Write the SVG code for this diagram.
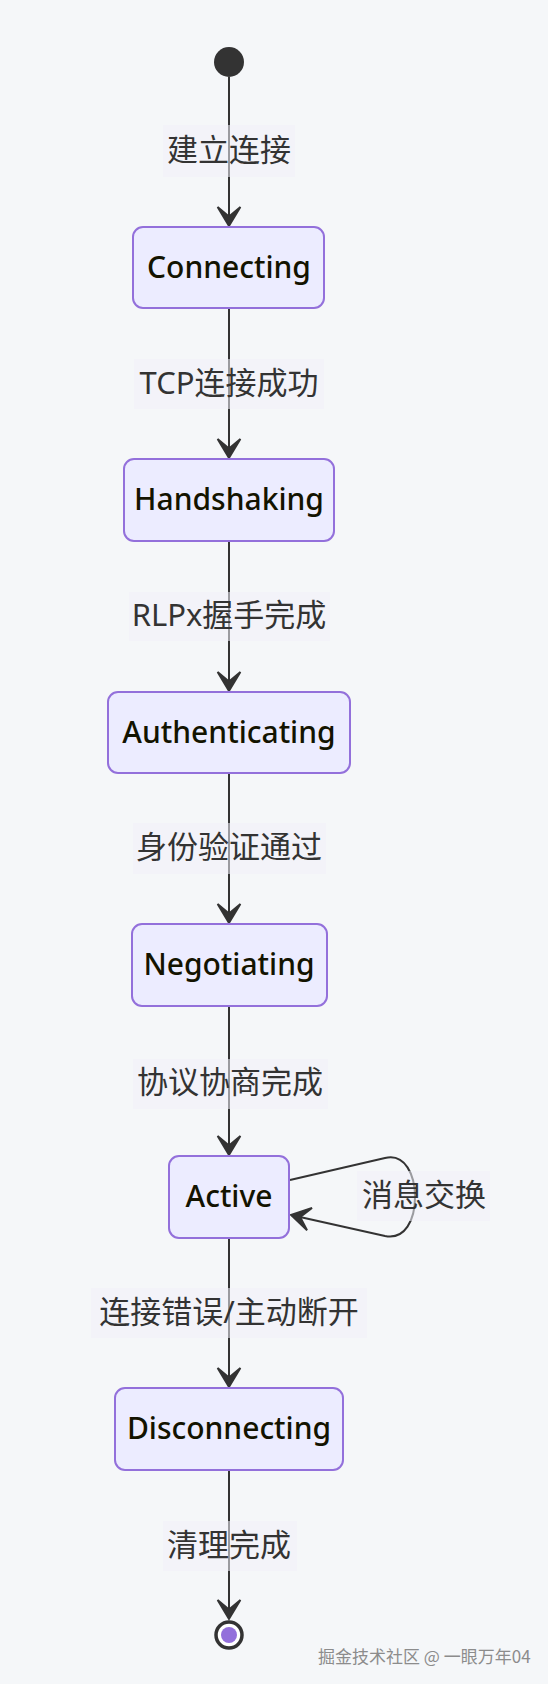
<svg xmlns="http://www.w3.org/2000/svg" width="548" height="1684" viewBox="0 0 548 1684">
<style>
.bg{fill:#f5f7f9}
.node rect{fill:#ececff;stroke:#9370db;stroke-width:2}
.node text{font-family:"Noto Sans","Noto Sans CJK SC",sans-serif;font-size:30px;font-weight:500;fill:#131300;text-anchor:middle;dominant-baseline:central}
.edge{fill:none;stroke:#333;stroke-width:2}
.lbg{fill:#f0f0fa;fill-opacity:0.55}
.lbl{font-family:"Noto Sans","Noto Sans CJK SC",sans-serif;font-size:31px;fill:#333;text-anchor:middle;dominant-baseline:central}
.wm{font-family:"Noto Sans CJK SC","Noto Sans",sans-serif;font-size:17px;fill:#8c8c8c}
</style>
<defs>
<marker id="barb" viewBox="0 0 20 14" refX="19" refY="7" markerUnits="userSpaceOnUse" markerWidth="38" markerHeight="26.6" orient="auto">
<path d="M19,7 L9,13 L14,7 L9,1 Z" fill="#333" stroke="#333" stroke-width="1"/>
</marker>
</defs>
<rect class="bg" x="0" y="0" width="548" height="1684"/>
<g id="connectors">
<path class="edge" d="M229,77 L229,226" marker-end="url(#barb)"/>
<path class="edge" d="M229,308 L229,458" marker-end="url(#barb)"/>
<path class="edge" d="M229,541 L229,691" marker-end="url(#barb)"/>
<path class="edge" d="M229,773 L229,923" marker-end="url(#barb)"/>
<path class="edge" d="M229,1006 L229,1155" marker-end="url(#barb)"/>
<path class="edge" d="M229,1238 L229,1387" marker-end="url(#barb)"/>
<path class="edge" d="M229,1470 L229,1619" marker-end="url(#barb)"/>
<path class="edge" d="M290,1180 L385,1158 C405,1153 415,1175 415,1197 C415,1220 405,1240 385,1236 L291,1215" marker-end="url(#barb)"/>
<g id="edge-labels">
<rect class="lbg" x="163" y="125" width="132" height="52"/>
<text class="lbl" x="229" y="149">建立连接</text>
<rect class="lbg" x="134" y="359" width="190" height="50"/>
<text class="lbl" x="229" y="382">TCP连接成功</text>
<rect class="lbg" x="129" y="592" width="201" height="49"/>
<text class="lbl" x="229" y="614">RLPx握手完成</text>
<rect class="lbg" x="133" y="823" width="193" height="51"/>
<text class="lbl" x="229" y="846">身份验证通过</text>
<rect class="lbg" x="133" y="1059" width="195" height="50"/>
<text class="lbl" x="230" y="1081">协议协商完成</text>
<rect class="lbg" x="91" y="1288" width="276" height="50"/>
<text class="lbl" x="229" y="1311">连接错误/主动断开</text>
<rect class="lbg" x="163" y="1521" width="134" height="50"/>
<text class="lbl" x="229" y="1544">清理完成</text>
<rect class="lbg" x="357" y="1171" width="133" height="50"/>
<text class="lbl" x="424" y="1194">消息交换</text>
</g>
</g>
<g id="start"><circle cx="229" cy="62" r="15" fill="#333"/></g>
<g id="Connecting" class="node"><rect x="133" y="227" width="191" height="81" rx="10"/><text x="229" y="266">Connecting</text></g>
<g id="Handshaking" class="node"><rect x="124" y="459" width="210" height="82" rx="10"/><text x="229" y="498">Handshaking</text></g>
<g id="Authenticating" class="node"><rect x="108" y="692" width="242" height="81" rx="10"/><text x="229" y="731">Authenticating</text></g>
<g id="Negotiating" class="node"><rect x="132" y="924" width="195" height="82" rx="10"/><text x="229" y="963">Negotiating</text></g>
<g id="Active" class="node"><rect x="169" y="1156" width="120" height="82" rx="10"/><text x="229" y="1195">Active</text></g>
<g id="Disconnecting" class="node"><rect x="115" y="1388" width="228" height="82" rx="10"/><text x="229" y="1427">Disconnecting</text></g>
<g id="end"><circle cx="229" cy="1635" r="13" fill="#fff" stroke="#333" stroke-width="3.5"/><circle cx="229" cy="1635" r="8" fill="#9370db"/></g>
<text class="wm" x="318" y="1663">掘金技术社区 @ 一眼万年04</text>
</svg>
